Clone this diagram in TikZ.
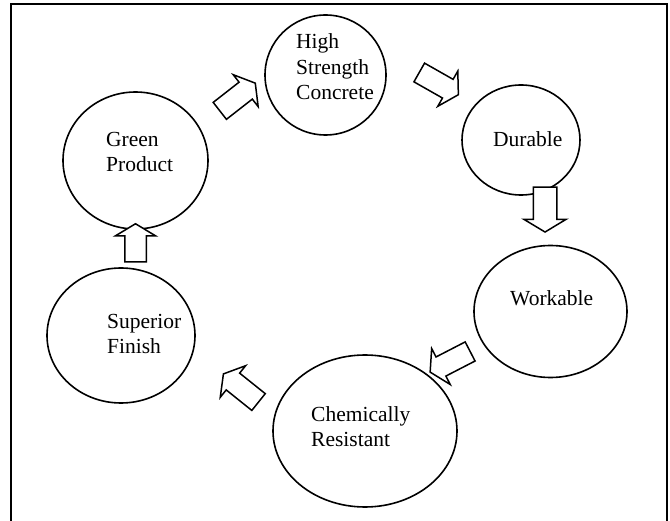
\documentclass[tikz,border=0pt]{standalone}
\usepackage{fontspec}
\setmainfont{Liberation Serif}
\usetikzlibrary{shapes.geometric,shapes.arrows}
\begin{document}
\begin{tikzpicture}[x=1pt,y=-1pt,
  ell/.style={draw, ellipse, line width=1.6pt, inner sep=0pt},
  txt/.style={align=left, anchor=base west, inner sep=0pt,
    font=\fontsize{21.5}{25.5}\selectfont},
  barrow/.style={draw, single arrow, line width=1.5pt, fill=white,
    inner xsep=0pt, inner ysep=10pt, single arrow head extend=9.5pt,
    single arrow tip angle=118, minimum height=45pt}]
\useasboundingbox (0,0) rectangle (670,521);
\draw[line width=1.5pt] (11,521) -- (11,4) -- (667,4) -- (667,521);
% ellipses
\node[ell, minimum width=121pt, minimum height=120pt] (hsc) at (325.5,75) {};
\node[ell, minimum width=118pt, minimum height=110pt] (dur) at (521,140) {};
\node[ell, minimum width=153pt, minimum height=132pt] (wor) at (550.5,311.5) {};
\node[ell, minimum width=184pt, minimum height=152pt] (che) at (365,431) {};
\node[ell, minimum width=148pt, minimum height=135pt] (sup) at (121,335.5) {};
\node[ell, minimum width=145pt, minimum height=137pt] (gre) at (135.5,160.5) {};
% texts (anchored at the baseline of the last line)
\node[txt] (thsc) at (296,100) {High\\Strength\\Concrete};
\node[txt] (tdur) at (493,147) {Durable};
\node[txt] (twor) at (510,306) {Workable};
\node[txt] (tche) at (311,447) {Chemically\\Resistant};
\node[txt] (tsup) at (107,354) {Superior\\Finish};
\node[txt] (tgre) at (106,172) {Green\\Product};
% block arrows
\node[barrow, rotate=38] (a1) at (235,99) {};
\node[barrow, rotate=-29.6] (a2) at (436,82) {};
\node[barrow, rotate=-90, inner ysep=11pt] (a3) at (545,206) {};
\node[barrow, rotate=207.3] (a4) at (453,360.3) {};
\node[barrow, rotate=141.3] (a5) at (243.5,390) {};
\node[barrow, rotate=90, minimum height=38pt] (a6) at (135.5,246) {};
\end{tikzpicture}
\end{document}
